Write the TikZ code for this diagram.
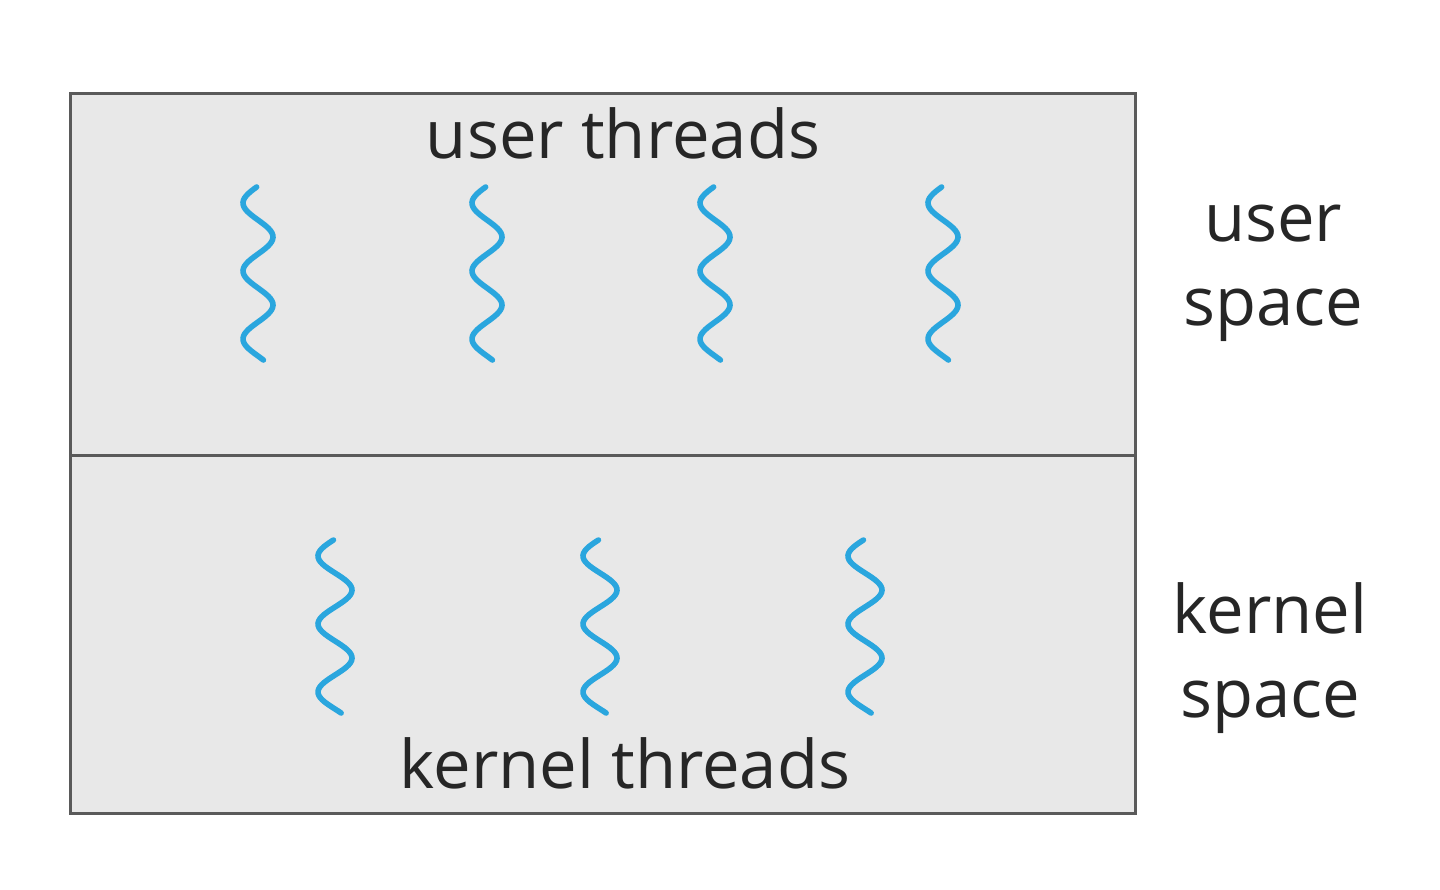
\documentclass[tikz,border=0pt]{standalone}
\usepackage{fontspec}
\setmainfont{Open Sans}
\definecolor{boxfill}{HTML}{E8E8E8}
\definecolor{boxline}{HTML}{5A5A5A}
\definecolor{threadblue}{HTML}{2AA6DE}
\tikzset{
  label text/.style={font=\fontsize{33.5}{42}\selectfont, text=black!85, inner sep=0pt},
  thread/.style={threadblue, line width=2.8pt, line cap=round},
}
\begin{document}
\begin{tikzpicture}[x=0.5pt, y=-0.5pt]
\useasboundingbox (0,0) rectangle (1440,889);
% the two halves of the box
\filldraw[fill=boxfill, draw=boxline, line width=1.5pt] (70,93) rectangle (1135,455);
\filldraw[fill=boxfill, draw=boxline, line width=1.5pt] (70,455) rectangle (1135,813);
\node (utitle) at (623,158)[label text, anchor=base]{user threads};
\node (ktitle) at (625,788)[label text, anchor=base]{kernel threads};
% threads
\foreach \c in {258, 487, 715, 943}
  \draw[thread] plot[domain=0:173, samples=80, smooth] ({\c - 15*cos(5.294*(\x-16))}, {187+\x});
\foreach \c in {335, 600, 865}
  \draw[thread] plot[domain=0:173, samples=80, smooth] ({\c - 17*cos(5.294*(\x-16))}, {540+\x});
\node (uspace) at (1273,325)[label text, anchor=base, align=center]{user\\space};
\node (kspace) at (1270,717)[label text, anchor=base, align=center]{kernel\\space};
\end{tikzpicture}
\end{document}
